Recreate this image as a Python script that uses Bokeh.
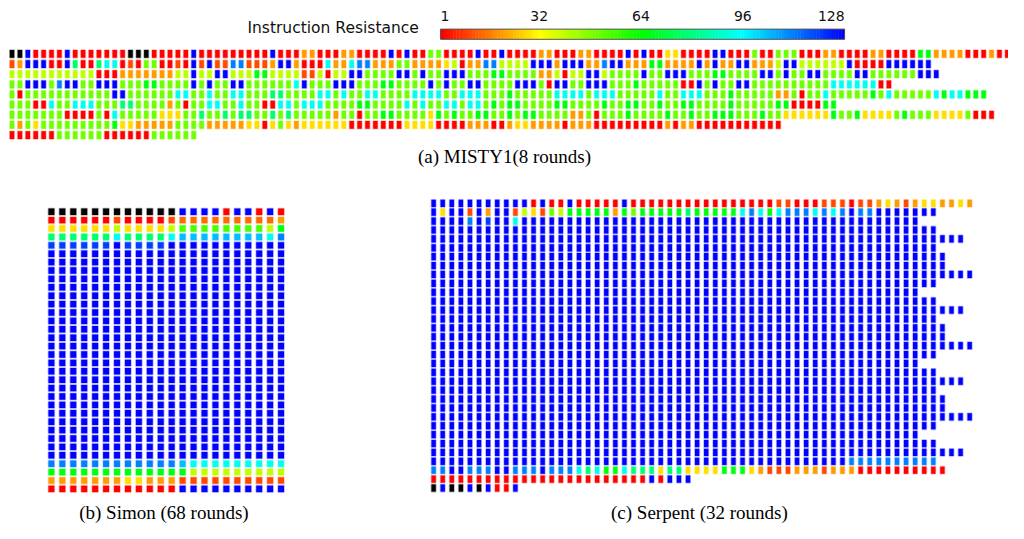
import numpy as np
from bokeh.plotting import figure
from bokeh.models import Range1d, LinearColorMapper, ColumnDataSource
from bokeh.core.properties import value
from bokeh.embed import file_html
from bokeh.resources import INLINE

# ---------------- data ----------------
# colour code of each cell -> Instruction Resistance (0 = black cell)
code_values = {'K': 0, 'R': 1, 'r': 10, 'o': 14, 'O': 20, 'Y': 28, 'y': 40,
               'l': 50, 'L': 55, 'G': 66, 'S': 78, 'C': 94, 'a': 104,
               'A': 112, 'D': 120, 'B': 128}

cbar_ticks = [1, 32, 64, 96, 128]
cbar_title = "Instruction Resistance"
captions = ["(a) MISTY1(8 rounds)", "(b) Simon (68 rounds)", "(c) Serpent (32 rounds)"]

misty_rows = [
    "KKBRRRRBRRRRRRRKKKRRRRRBRRRRRRRRRBRRROORR" "ROORRRRBRBRRllRRRRBRRBRRRROORRROORRRRBRBRRYY" "RRRRBBRRRlRRlllRRROORRRROORRRRGGOOOORRRORR",
    "rOBBBRRBSRRSCCRrRllRRrRBrBrrAArrrOBBORRRC" "OOCAAOOOllOOOOYyROOAAyyyyBBBOBBBOOABBOOOGGOO" "OOBOBOOBBOOOyBByyyyyyBRRRRBBBBBB",
    "yyyyyyyyyyyRRROOOOOOOyyByyBByyyGGyyyyrryR" "yyBBllllBBlBllBBBlllGGllllOOyRyyBByllllBllBB" "BlllGGllllBBlBllBBllllBBllllllBBB",
    "llBBBlABBllBBBlllGGllllBlBllBBllllllCBlll" "BBBlllGGllllBlBllBBllllBBBlRBBllBBBlllGlllll" "RRBlBllBBllllllllllCCCCCCRR",
    "lRlllllllllllBBllllllCCllCllCClllSSllllCC" "lCllCCllllCCCCllCCClllGlllllCCCClCCClllllCll" "CCClllGlllllOOlRllClllllGlClllllCGCCGGG",
    "lllRRCllCCClllSSllllOlRllCCllCllRRCClCCCl" "lllGGllllClCllCClCClGlGGllllGGllllGllGGllGll" "GGllllGlllllGGRRRRGG",
    "lllllllRRRRlRClllllYYYllSllSlSSllSlSlllll" "OllRllGGllllYGlGllGGllGlGGllllOOlRlllGllllGl" "lGllGGGlllGllYYYYYYGllGYYYYlGlllYYYYlRRR",
    "lOlYlllllllllGYYOOOOOllllOOOOOYYRYlYOYYYY" "YYRRRRRRRYYYYRRRROOORROYYOOOOROOORRRRRRRRROR" "OORRRRRRRRRRR",
    "RRRRRRllllllRRRRRRllllll",
]

simon_top = [
    "KKKKKKKKKKKKBBBBRBBRBR",
    "RRRRRRrRRRRroooooooooO",
    "YYYYYYyYYYYyLLLLLLLLyG",
    "SSSSSSCSSSSCaaaaaaaaCA",
    "DDDDDDBDDDDBBBBBBBBBBB",
]
simon_middle_blue_rows = 25
simon_width = 22
simon_bottom = [
    "AAAAAAAAAAAAaCCCCCCCCC",
    "GGGGGGGGGGGGGyyyyyyyyy",
    "OOOOOOOYYOOOrrrrrrrrrr",
    "RRRRRRRRRRRRBBBBBBBBBB",
]

serpent_row_lengths = [60, 56, 54, 56, 59, 56, 57, 57, 60, 56, 54, 56, 59, 56, 57, 57,
                       60, 56, 54, 56, 59, 56, 57, 57, 60, 56, 54, 56, 59, 56, 57, 29, 10]
serpent_special = {
    0: "BBBBBBBBBBBRBRRBRRRRRBRRRRRRRRR" "RRRRRRRrrRRRrrrRrrOYOrOYYOOYO",
    1: "BYBBrBOBBryYrlyGGGGGOGlGGGGGSGGG" "GGCACGCAAACACABAABBBBBBB",
    2: "BBBBABDBBC",
    29: "B" * 46 + "A" * 10,
    30: "AABBAAABBAAABAAACSCGGCSSSYSSYYYY" "GGGYOrrrOOOrOOORRRRRRRRRR",
    31: "RRRRRRRRRRRRRRRRRRRRRRRRBRBBB",
    32: "KBKKBKBRRB",
}

# ---------------- build ----------------
simon_rows = simon_top + ["B" * simon_width] * simon_middle_blue_rows + simon_bottom
serpent_rows = []
for i, n in enumerate(serpent_row_lengths):
    s = serpent_special.get(i, "")
    serpent_rows.append((s + "B" * n)[:n])

anchors_v = [1, 32, 64, 96, 128]
anchors_rgb = [(255, 0, 0), (255, 255, 0), (0, 255, 0), (0, 255, 255), (0, 0, 255)]
palette = []
for v in range(1, 129):
    rgb = [int(round(np.interp(v, anchors_v, [c[k] for c in anchors_rgb]))) for k in range(3)]
    palette.append("#%02x%02x%02x" % tuple(rgb))
mapper = LinearColorMapper(palette=palette, low=1, high=128, low_color="#000000")

p = figure(width=1008, height=523, x_range=Range1d(0, 1024), y_range=Range1d(539, 0),
           output_backend="svg", toolbar_location=None, min_border=0,
           x_axis_location=None, y_axis_location=None)
p.grid.visible = False
p.outline_line_color = None
p.background_fill_color = "white"


def add_grid(rows, x0, dx, y0, dy, w, h):
    xs, ys, vs = [], [], []
    for r, row in enumerate(rows):
        for c, ch in enumerate(row):
            xs.append(x0 + c * dx)
            ys.append(y0 + r * dy)
            vs.append(code_values[ch])
    src = ColumnDataSource(dict(x=xs, y=ys, v=vs))
    p.rect(x="x", y="y", width=w, height=h, source=src,
           fill_color={"field": "v", "transform": mapper},
           line_color={"field": "v", "transform": mapper},
           line_alpha=0.3, line_width=1.6)


add_grid(misty_rows, 11.7, 8.025, 55.0, 10.46, 4.5, 8.0)
add_grid(simon_rows, 51.7, 11.11, 217.7, 8.655, 6.0, 6.6)
add_grid(serpent_rows, 440.0, 9.23, 209.0, 9.17, 4.4, 7.4)

# colour bar
bx0, bx1, by0, by1 = 447.0, 857.5, 29.5, 40.0
cv = np.arange(1, 129)
seg = (bx1 - bx0) / len(cv)
cb_src = ColumnDataSource(dict(v=cv, left=bx0 + (cv - 1) * seg, right=bx0 + cv * seg + 0.4))
p.quad(left="left", right="right", top=by0, bottom=by1,
       fill_color={"field": "v", "transform": mapper}, line_color=None, source=cb_src)
p.quad(left=[bx0], right=[bx1], top=[by0], bottom=[by1], fill_color=None,
       line_color="#555555", line_width=1)

tick_x = [bx0 + (t - 1) * (bx1 - bx0) / 127 for t in cbar_ticks]
aligns = ["left", "center", "center", "center", "right"]
for tx, t, al in zip(tick_x, cbar_ticks, aligns):
    p.text(x=[tx], y=[16], text=[str(t)], text_font=value("DejaVu Sans"),
           text_font_size="14px", text_align=al, text_baseline="middle", text_color="#111111")
p.text(x=[425], y=[28], text=[cbar_title], text_font=value("DejaVu Sans"),
       text_font_size="15.5px", text_align="right", text_baseline="middle", text_color="#111111")

p.text(x=[512, 166, 710], y=[161, 528, 528], text=captions,
       text_font=value("Liberation Serif"), text_font_size="19px",
       text_align="center", text_baseline="middle", text_color="#000000")

open("out.html", "w").write(file_html(p, INLINE))
